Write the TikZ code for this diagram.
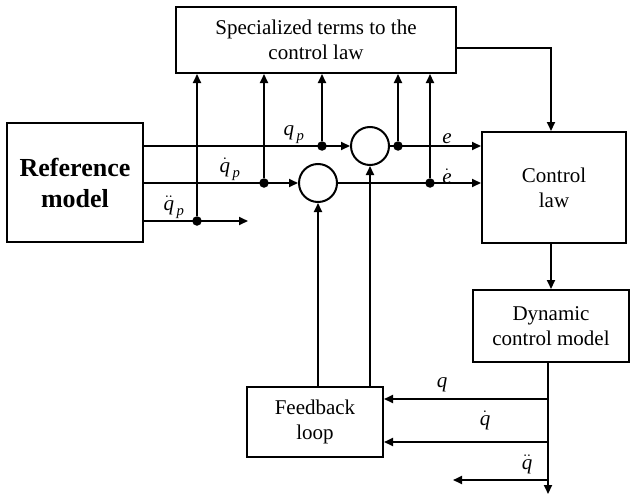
\documentclass[tikz,border=0pt]{standalone}
\usepackage{amsmath}
\usepackage{fontspec}
\setmainfont{Liberation Serif}
\usetikzlibrary{arrows.meta,calc}

\begin{document}
\begin{tikzpicture}[x=1pt,y=-1pt,
  blk/.style={draw,line width=2pt,align=center,inner sep=0pt,font=\fontsize{21}{25}\selectfont},
  sum/.style={draw,circle,line width=2pt,minimum size=38pt,inner sep=0pt},
  sig/.style={line width=2pt,-{Triangle[length=9pt,width=8pt]}},
  lbl/.style={inner sep=0pt,font=\fontsize{21}{25}\selectfont},
  jn/.style={circle,fill=black,inner sep=0pt,minimum size=9.5pt}]
\useasboundingbox (0,0) rectangle (631,495);

% blocks
\node[blk,minimum width=280pt,minimum height=66pt] (spec) at (316,40) {Specialized terms to the\\control law};
\node[blk,minimum width=136pt,minimum height=119pt,font=\fontsize{26}{31}\selectfont\bfseries] (ref) at (75,182.5) {Reference\\model};
\node[blk,minimum width=144pt,minimum height=111pt] (ctrl) at (554,187.5) {Control\\law};
\node[blk,minimum width=156pt,minimum height=72pt] (dyn) at (551,326) {Dynamic\\control model};
\node[blk,minimum width=136pt,minimum height=70pt] (fb) at (315,422) {Feedback\\loop};

% summing junctions
\node[sum] (sA) at (370,146) {};
\node[sum] (sB) at (318,183) {};

% branch points
\node[jn] (jqp) at (322,146) {};
\node[jn] (jdqp) at (264,183) {};
\node[jn] (jddqp) at (197,221) {};
\node[jn] (je) at (398,146) {};
\node[jn] (jde) at (430,183) {};
\coordinate (ddqpEnd) at (248,221);
\coordinate (jq) at (548,399);
\coordinate (jdq) at (548,442);
\coordinate (jddq) at (548,480);
\coordinate (ddqEnd) at (453,480);
\coordinate (qOut) at (548,494);

% reference signals
\draw[sig] (ref.east |- sA.west) -- (sA.west);
\draw[sig] (ref.east |- sB.west) -- (sB.west);
\draw[sig] (ref.east |- ddqpEnd) -- (ddqpEnd);
\draw[sig] (jqp) -- (jqp |- spec.south);
\draw[sig] (jdqp) -- (jdqp |- spec.south);
\draw[sig] (jddqp) -- (jddqp |- spec.south);

% errors
\draw[sig] (sA.east) -- (ctrl.west |- sA.east);
\draw[sig] (sB.east) -- (ctrl.west |- sB.east);
\draw[sig] (je) -- (je |- spec.south);
\draw[sig] (jde) -- (jde |- spec.south);

% forward path
\draw[sig] ($(spec.east)+(0,8)$) -| ([xshift=-3pt]ctrl.north);
\draw[sig] (dyn.north |- ctrl.south) -- (dyn.north);
\draw[sig] (qOut |- dyn.south) -- (qOut);

% feedback
\draw[sig] (jq) -- (fb.east |- jq);
\draw[sig] (jdq) -- (fb.east |- jdq);
\draw[sig] (jddq) -- (ddqEnd);
\draw[sig] (sB.south |- fb.north) -- (sB.south);
\draw[sig] (sA.south |- fb.north) -- (sA.south);

% labels
\node[lbl] (lqp) at (294,135) {$\textit{q}_{\,\textit{p}}$};
\node[lbl] (ldqp) at (230,169) {$\dot{\textit{q}}_{\,\textit{p}}$};
\node[lbl] (lddqp) at (174,207) {$\ddot{\textit{q}}_{\,\textit{p}}$};
\node[lbl] (le) at (447,139) {$\textit{e}$};
\node[lbl] (lde) at (447,176) {$\dot{\textit{e}}$};
\node[lbl] (lq) at (442,385) {$\textit{q}$};
\node[lbl] (ldq) at (485,420) {$\dot{\textit{q}}$};
\node[lbl] (lddq) at (527,464) {$\ddot{\textit{q}}$};

\end{tikzpicture}
\end{document}
